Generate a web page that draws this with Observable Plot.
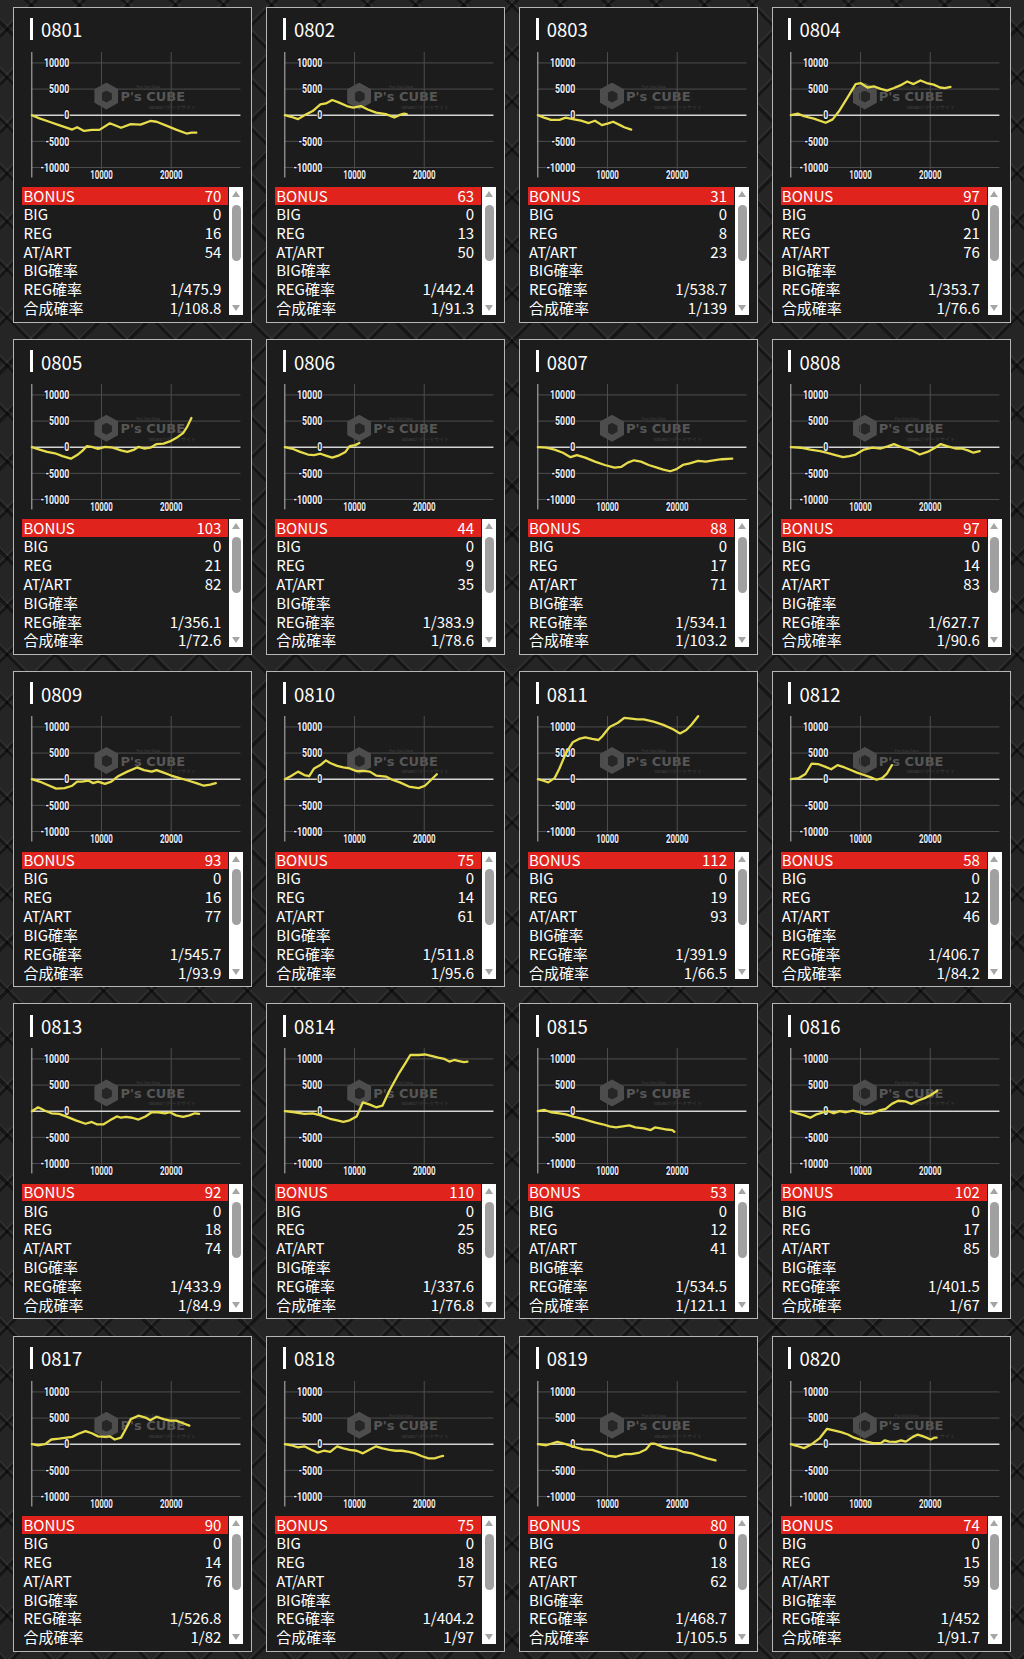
<!DOCTYPE html>
<html>
<head>
<meta charset="utf-8">
<script src="https://cdn.jsdelivr.net/npm/d3@7"></script>
<script src="https://cdn.jsdelivr.net/npm/@observablehq/plot@0.6"></script>
<style>
  html, body { margin: 0; padding: 0; }
  body {
    width: 1024px; height: 1659px; overflow: hidden;
    background-color: #252525;
    background-image:
      repeating-linear-gradient(45deg, rgba(0,0,0,0.4) 0 3px, rgba(255,255,255,0.035) 3px 5px, transparent 5px 34px),
      repeating-linear-gradient(-45deg, rgba(0,0,0,0.4) 0 3px, rgba(255,255,255,0.035) 3px 5px, transparent 5px 34px);
    font-family: "Noto Sans CJK JP", "Noto Sans", sans-serif;
  }
  #root { position: relative; width: 1024px; height: 1659px; }
  .panel {
    position: absolute; width: 237px; height: 314px;
    background: #1c1c1c; border: 1px solid #b6b6b6;
  }
  .bar { position: absolute; left: 15.7px; top: 10.3px; width: 3px; height: 22px; background: #fff; }
  .title { position: absolute; left: 26.7px; top: 10.8px; line-height: 22px; font-size: 18.5px; color: #fff; }
  .wm { position: absolute; left: 80px; top: 75px; width: 100px; height: 30px; }
  .hex { position: absolute; left: 0; top: 0; width: 24px; height: 27px; background: #4d4d4d;
         clip-path: polygon(50% 0, 100% 25%, 100% 75%, 50% 100%, 0 75%, 0 25%); }
  .hex2 { position: absolute; left: 6.5px; top: 8px; width: 11px; height: 12px; background: #262626;
         clip-path: polygon(50% 0, 100% 25%, 100% 75%, 50% 100%, 0 75%, 0 25%); }
  .wmt { position: absolute; left: 26px; top: 7.5px; font-family: "DejaVu Sans", sans-serif; font-weight: bold; font-size: 13px; line-height: 13px; color: #565656; white-space: nowrap; }
  .wms { position: absolute; left: 42px; top: 1px; font-family: Roboto, sans-serif; font-size: 4px; line-height: 5px; color: #404040; white-space: nowrap; }
  .wms2 { position: absolute; left: 54px; top: 22px; font-family: Roboto, sans-serif; font-size: 4.5px; line-height: 5px; color: #404040; white-space: nowrap; }
  .chart { position: absolute; left: -1px; top: 39px; }
  .ch text { paint-order: stroke; stroke: #0d0d1a; stroke-width: 2.2px; stroke-linejoin: round; font-weight: bold; }
  .row { position: absolute; left: 8px; width: 206px; font-size: 15px; color: #fff; white-space: nowrap; }
  .row span { position: absolute; top: 0; display: inline-block; height: 100%; line-height: inherit; }
  .row .lab { left: 1px; }
  .row .val { right: 7px; }
  .row.first { background: #e0231c; height: 17.5px; line-height: 17.5px; top: 179.5px; }
  .row.first span { top: 0.5px; height: 15.5px; line-height: 15.5px; }
  .row.norm { height: 17.4px; line-height: 17.4px; }
  .scroll { position: absolute; left: 215px; top: 179.7px; width: 14px; height: 127.5px; background: #fff; }
  .up { position: absolute; left: 2.5px; top: 4px; width: 0; height: 0;
        border-left: 4.5px solid transparent; border-right: 4.5px solid transparent; border-bottom: 6px solid #a5a5a5; }
  .down { position: absolute; left: 2.5px; bottom: 4px; width: 0; height: 0;
        border-left: 4.5px solid transparent; border-right: 4.5px solid transparent; border-top: 6px solid #a5a5a5; }
  .thumb { position: absolute; left: 2.5px; top: 17.5px; width: 9px; height: 56px; border-radius: 4.5px; background: #a0a0a0; }
</style>
</head>
<body>
<div id="root"></div>
<script>
// ---- data ----
const machines = ["0801","0802","0803","0804","0805","0806","0807","0808","0809","0810",
                  "0811","0812","0813","0814","0815","0816","0817","0818","0819","0820"];
const rowLabels = ["BONUS","BIG","REG","AT/ART","BIG確率","REG確率","合成確率"];
const bonus = [70,63,31,97,103,44,88,97,93,75,112,58,92,110,53,102,90,75,80,74];
const big = [0,0,0,0,0,0,0,0,0,0,0,0,0,0,0,0,0,0,0,0];
const reg = [16,13,8,21,21,9,17,14,16,14,19,12,18,25,12,17,14,18,18,15];
const atart = [54,50,23,76,82,35,71,83,77,61,93,46,74,85,41,85,76,57,62,59];
const bigProb = ["","","","","","","","","","","","","","","","","","","",""];
const regProb = ["1/475.9","1/442.4","1/538.7","1/353.7","1/356.1","1/383.9","1/534.1","1/627.7","1/545.7","1/511.8",
                 "1/391.9","1/406.7","1/433.9","1/337.6","1/534.5","1/401.5","1/526.8","1/404.2","1/468.7","1/452"];
const totalProb = ["1/108.8","1/91.3","1/139","1/76.6","1/72.6","1/78.6","1/103.2","1/90.6","1/93.9","1/95.6",
                   "1/66.5","1/84.2","1/84.9","1/76.8","1/121.1","1/67","1/82","1/97","1/105.5","1/91.7"];

const xTicks = [10000, 20000];
const yTicks = [-10000, -5000, 0, 5000, 10000];
const xDomain = [0, 30000];
const yDomain = [-12000, 12000];

// [games, difference]
const line0801 = [[0,0],[1100,-600],[2500,-1250],[3900,-1900],[5800,-2750],[6500,-2300],[7500,-3000],[8600,-2800],[9700,-2800],[11200,-1550],[12800,-2400],[14200,-1700],[15600,-1800],[17000,-1100],[17900,-1250],[19300,-2000],[20700,-2750],[22200,-3500],[22900,-3350],[23600,-3350]];
const line0802 = [[0,0],[900,-300],[1900,-750],[2800,0],[4000,800],[5100,2050],[5900,2250],[6800,2900],[7800,2400],[8900,1750],[9800,1450],[10900,1750],[11900,1100],[13100,500],[14500,200],[15700,-450],[16500,50],[17100,300],[17500,200]];
const line0803 = [[0,0],[900,-450],[1900,-900],[3100,-900],[4000,-450],[5000,-750],[6200,-1050],[7300,-1500],[8200,-1050],[9200,-1900],[10100,-1550],[10800,-1250],[11800,-1900],[12400,-2300],[13400,-2750]];
const line0804 = [[0,0],[1000,300],[1900,-200],[3300,-650],[5000,-1450],[6000,-800],[6900,750],[8100,3300],[9300,5950],[10000,6150],[11000,5300],[11900,5500],[12900,5050],[13800,4700],[14800,5200],[15700,5700],[16700,6450],[17600,5950],[18600,6650],[19500,6150],[20500,5850],[21400,5300],[22100,5200],[22900,5400]];
const line0805 = [[0,0],[1100,-450],[2200,-900],[3500,-1250],[4400,-1700],[5600,-2200],[6500,-1500],[7200,-750],[7900,200],[8600,50],[9500,-300],[10500,50],[11600,-100],[12800,-600],[13700,-900],[14700,-450],[15300,50],[16100,-250],[17000,-100],[17900,600],[18900,700],[19800,1100],[20700,1750],[21700,2700],[22300,3950],[22900,5600]];
const line0806 = [[0,0],[1100,-300],[2200,-900],[3300,-1400],[4200,-1500],[5100,-1250],[6100,-1700],[6800,-2000],[7800,-1550],[8700,-900],[9300,200],[10100,400],[10700,800]];
const line0807 = [[0,0],[1200,-100],[2400,-450],[3600,-1050],[4700,-1900],[5600,-1500],[6800,-2000],[8200,-2750],[9600,-3400],[11000,-3900],[12000,-3750],[12900,-2950],[13800,-2500],[14800,-2750],[15900,-3400],[17100,-3900],[18000,-4300],[19000,-4600],[19900,-4200],[20800,-3400],[21800,-3100],[23000,-2600],[24100,-2750],[25200,-2500],[26400,-2300],[27900,-2200]];
const line0808 = [[0,0],[1400,-100],[2800,-450],[4200,-750],[5100,-1050],[6400,-1500],[7500,-1900],[8400,-1700],[9300,-1400],[10500,-450],[11700,-100],[12900,-250],[14000,200],[14800,600],[15900,0],[17300,-600],[18500,-1400],[19600,-900],[20700,-100],[21500,600],[22400,200],[23600,-250],[24500,-250],[25400,-600],[26200,-1050],[27100,-750]];
const line0809 = [[0,0],[1100,-450],[2200,-1050],[3500,-1800],[4700,-1700],[5800,-1250],[6500,-450],[7200,-450],[8100,-250],[8800,-750],[9500,-450],[10500,-900],[11400,-450],[12300,500],[13700,1450],[15100,2250],[16100,1750],[17200,1450],[17900,1750],[18900,1250],[20000,700],[21200,200],[22400,-250],[23600,-750],[24700,-1250],[25600,-1050],[26400,-750]];
const line0810 = [[0,0],[900,600],[1900,1450],[2800,800],[3500,600],[4200,2050],[5100,2700],[5900,3600],[6500,3100],[7500,2550],[8400,2250],[9300,2050],[10300,1550],[11200,1600],[12200,1450],[13100,700],[14500,500],[15400,-100],[16500,-600],[17800,-1400],[19200,-1700],[20100,-1250],[21000,-100],[21800,950]];
const line0811 = [[0,0],[700,-250],[1500,-600],[2400,200],[3100,2050],[4000,4900],[5000,7050],[5900,7700],[6800,8000],[7800,7700],[8700,7500],[9300,8300],[10300,10000],[11500,10800],[12400,11750],[13400,11600],[14300,11450],[15200,11450],[16600,11000],[18000,10400],[19400,9550],[20400,8750],[21300,9400],[22100,10500],[23000,12050]];
const line0812 = [[0,0],[1100,200],[2100,1000],[3000,3000],[3900,2900],[4900,2400],[5800,1900],[6700,2700],[7700,2250],[8600,1750],[9500,1250],[10500,800],[11400,400],[12300,-100],[13100,200],[13800,1100],[14500,2700]];
const line0813 = [[0,0],[900,750],[1900,100],[2800,-400],[3900,-500],[4900,-1000],[6300,-1750],[7700,-2400],[8600,-2050],[9300,-2500],[10300,-2500],[11200,-1750],[12200,-1000],[12800,-1250],[13500,-1100],[14400,-1250],[15300,-1600],[16300,-1000],[17200,-200],[18100,-200],[19100,-400],[19800,-200],[20700,-800],[21700,-1100],[22600,-800],[23400,-400],[24000,-500]];
const line0814 = [[0,0],[1400,-200],[2800,-500],[4000,-400],[5100,-800],[6500,-1450],[7500,-1750],[8400,-2050],[9300,-1750],[10300,-1000],[11200,1700],[12200,1250],[13100,750],[14000,1050],[15000,3900],[16400,7300],[17300,9200],[18000,10750],[19200,10750],[20100,10850],[21000,10600],[22000,10250],[22900,10000],[23600,9500],[24300,9800],[25000,9600],[25700,9400],[26200,9500]];
const line0815 = [[0,0],[900,250],[1900,-200],[3100,-400],[4000,-600],[5200,-1100],[6400,-1450],[7500,-1900],[8400,-2250],[9300,-2500],[10300,-2900],[11200,-3100],[12200,-2900],[13100,-2700],[14000,-3100],[15200,-3300],[16200,-3600],[16800,-3100],[17600,-3300],[18500,-3500],[19300,-3600],[19600,-3950]];
const line0816 = [[0,0],[900,-400],[1900,-800],[2800,-1250],[3700,-600],[4700,-200],[5400,0],[6100,-400],[7000,0],[7900,-200],[8900,100],[9800,-200],[10700,-500],[11700,-400],[12600,100],[13600,450],[14500,1400],[15400,2000],[16400,1900],[17300,1400],[18200,2000],[19200,2500],[20100,3100],[21000,3900]];
const line0817 = [[0,0],[900,-200],[1900,0],[2800,900],[3900,1050],[5000,1250],[5800,1400],[6700,2000],[7700,2500],[8600,2100],[9500,1500],[10500,1400],[11200,1500],[11900,900],[12800,1250],[13500,2950],[14200,4800],[15300,5450],[16300,5100],[17000,4600],[17900,5250],[18900,4800],[19800,4500],[20700,4500],[21700,4000],[22600,3550]];
const line0818 = [[0,0],[900,-200],[1900,-600],[2800,-400],[3700,-1000],[4700,-1600],[5600,-1250],[6500,-1450],[7500,-400],[8400,-800],[9300,-1100],[10300,-1250],[11200,-1750],[12200,-1000],[13100,-400],[14000,-800],[15000,-1100],[15900,-1250],[16800,-1250],[17800,-1450],[18700,-1750],[19600,-2250],[20600,-2700],[21500,-2700],[22200,-2400],[22700,-2250]];
const line0819 = [[0,0],[1200,-200],[2800,450],[4000,0],[5200,-500],[6500,-1000],[7800,-1100],[9000,-1600],[10100,-2250],[11200,-2400],[12400,-1900],[13400,-1900],[14600,-1600],[15500,-1000],[16200,100],[16800,100],[17800,-500],[18700,-800],[19900,-1000],[20800,-1450],[22100,-1750],[23200,-2250],[24300,-2700],[25500,-3100]];
const line0820 = [[0,0],[800,-300],[1900,-750],[3000,0],[4100,1100],[5200,2950],[6300,2600],[7200,2300],[8200,1850],[9100,1250],[10100,800],[11000,450],[11800,200],[12900,200],[13500,750],[14100,500],[15100,450],[15800,750],[16500,500],[17500,1400],[18200,1850],[18900,1550],[20100,900],[20600,1250],[20900,1250]];

const series = [line0801,line0802,line0803,line0804,line0805,line0806,line0807,line0808,line0809,line0810,
                line0811,line0812,line0813,line0814,line0815,line0816,line0817,line0818,line0819,line0820];

// ---- layout ----
const root = document.getElementById("root");
const colLeft = c => 13.4 + c * 252.8;
const rowTop = r => 6.5 + r * 332.3;

machines.forEach((name, i) => {
  const c = i % 4, r = Math.floor(i / 4);
  const p = document.createElement("div");
  p.className = "panel";
  p.style.left = colLeft(c) + "px";
  p.style.top = rowTop(r) + "px";
  p.innerHTML = `<div class="bar"></div><div class="title">${name}</div>
    <div class="wm"><div class="hex"></div><div class="hex2"></div>
      <div class="wms">Fun Slot Data</div><div class="wmt">P's CUBE</div><div class="wms2">valuesのデータサイト</div></div>`;

  const chart = Plot.plot({
    width: 239, height: 136,
    marginLeft: 18.4, marginRight: 10.6, marginTop: 5, marginBottom: 5,
    className: "ch",
    style: { background: "transparent", color: "#efefef", fontFamily: "Roboto, sans-serif", fontSize: "13px", overflow: "visible" },
    x: { domain: xDomain, axis: null },
    y: { domain: yDomain, axis: null },
    marks: [
      Plot.ruleY(yTicks.filter(d => d !== 0), { stroke: "#4e4e4e", strokeWidth: 1 }),
      Plot.ruleX(xTicks, { stroke: "#4e4e4e", strokeWidth: 1 }),
      Plot.ruleY([0], { stroke: "#d4d4d4", strokeWidth: 1.5 }),
      Plot.ruleX([0], { stroke: "#bdbdbd", strokeWidth: 1 }),
      Plot.axisY({ ticks: yTicks, tickSize: 0, tickPadding: 0, dx: 37.6, tickFormat: d => String(d) }),
      Plot.axisX({ ticks: xTicks, tickSize: 0, tickPadding: 0, dy: -8, tickFormat: d => String(d) }),
      Plot.line(series[i], { x: d => d[0], y: d => d[1], stroke: "#e6dc4c", strokeWidth: 2.3, strokeLinejoin: "round" })
    ]
  });
  const holder = document.createElement("div");
  holder.className = "chart";
  holder.appendChild(chart);
  p.appendChild(holder);

  const vals = [bonus[i], big[i], reg[i], atart[i], bigProb[i], regProb[i], totalProb[i]];
  rowLabels.forEach((lab, k) => {
    const row = document.createElement("div");
    row.className = "row " + (k === 0 ? "first" : "norm");
    if (k > 0) row.style.top = (197.2 + (k - 1) * 18.9) + "px";
    row.innerHTML = `<span class="lab">${lab}</span><span class="val">${vals[k]}</span>`;
    p.appendChild(row);
  });
  const sc = document.createElement("div");
  sc.className = "scroll";
  sc.innerHTML = `<div class="up"></div><div class="thumb"></div><div class="down"></div>`;
  p.appendChild(sc);
  root.appendChild(p);

  // condense the tick labels like the reference's narrow digits
  chart.querySelectorAll("g[aria-label='y-axis tick label'] text").forEach(t => {
    const len = t.getComputedTextLength();
    t.setAttribute("textLength", (len * 0.68).toFixed(2));
    t.setAttribute("lengthAdjust", "spacingAndGlyphs");
  });
  chart.querySelectorAll("g[aria-label='x-axis tick label'] text").forEach(t => {
    const len = t.getComputedTextLength();
    t.setAttribute("textLength", (len * 0.61).toFixed(2));
    t.setAttribute("lengthAdjust", "spacingAndGlyphs");
  });
});
</script>
</body>
</html>
